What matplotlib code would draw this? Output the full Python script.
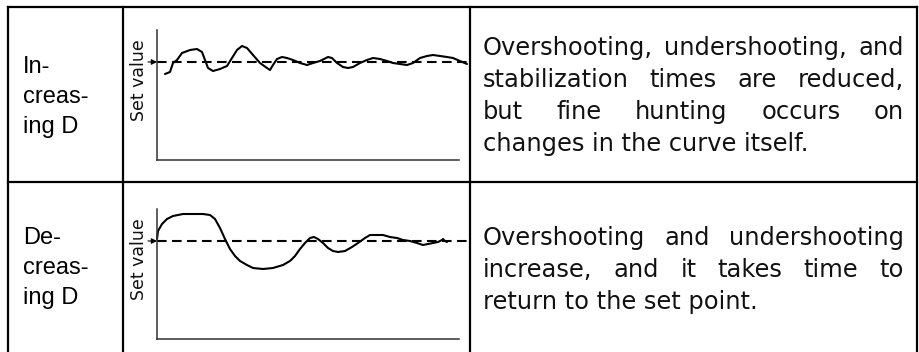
import matplotlib.pyplot as plt

# figure size in pixels (dpi 100)
W, H = 920, 352

# row labels, one entry per line
labels_inc = ['In-', 'creas-', 'ing D']
labels_dec = ['De-', 'creas-', 'ing D']

# descriptions, one entry per printed line
desc_inc = ['Overshooting, undershooting, and',
            'stabilization times are reduced,',
            'but fine hunting occurs on',
            'changes in the curve itself.']
desc_dec = ['Overshooting and undershooting',
            'increase, and it takes time to',
            'return to the set point.']

set_value = 98

# response with increasing D (time, value)
t_inc = [8, 13, 16, 20, 25, 33, 40, 45, 48, 51, 56, 63, 70, 75, 80, 85, 90, 96,
         103, 110, 113, 116, 120, 125, 130, 136, 143, 150, 156, 163, 171, 175,
         180, 186, 191, 196, 203, 210, 216, 223, 230, 236, 243, 250, 256, 263,
         270, 276, 283, 290, 296, 303, 310]
v_inc = [86, 88, 97, 100, 107, 110, 111, 108, 100, 92, 89, 91, 94, 102, 110,
         114, 112, 105, 97, 92, 90, 95, 101, 103, 102, 100, 97, 95, 97, 99, 103,
         102, 97, 93, 92, 93, 97, 100, 102, 101, 99, 97, 96, 95, 97, 102, 104,
         105, 104, 103, 102, 99, 96]

# response with decreasing D (time, value)
t_dec = [0, 1, 5, 10, 16, 26, 36, 46, 53, 58, 63, 68, 73, 78, 83, 90, 96, 106,
         116, 126, 133, 138, 143, 148, 153, 157, 161, 166, 171, 176, 181, 188,
         195, 201, 208, 213, 220, 226, 233, 240, 246, 253, 260, 266, 271, 276,
         281, 285, 286, 288, 290]
v_dec = [100, 108, 115, 120, 123, 125, 125, 125, 124, 120, 111, 100, 90, 83,
         78, 74, 71, 70, 71, 74, 78, 83, 90, 96, 101, 102, 100, 96, 91, 88, 87,
         88, 92, 96, 101, 104, 104, 104, 102, 101, 99, 98, 96, 94, 95, 96, 97,
         99, 100, 98, 97]

fig = plt.figure(figsize=(W / 100, H / 100), dpi=100)
fig.patch.set_facecolor('white')

# full-figure axes in pixel units for the table grid and the text
bg = fig.add_axes([0, 0, 1, 1])
bg.set_xlim(0, W)
bg.set_ylim(H, 0)
bg.axis('off')

grid_kw = dict(color='black', lw=1.6, solid_capstyle='projecting')
bg.plot([8, 917], [7, 7], **grid_kw)
bg.plot([8, 917], [182, 182], **grid_kw)
for x in [8, 123, 470, 917]:
    bg.plot([x, x], [7, H + 2], **grid_kw)

left_font = dict(family='Liberation Sans', fontsize=17, color='black')
right_font = dict(family='DejaVu Sans', fontsize=17.4, color='#111111')


def left_label(lines, y0):
    for i, s in enumerate(lines):
        bg.text(23, y0 + i * 30, s, va='baseline', ha='left', **left_font)


def paragraph(lines, y0, x0=483, x1=904, step=32):
    renderer = fig.canvas.get_renderer()
    for i, s in enumerate(lines):
        y = y0 + i * step
        if i == len(lines) - 1:
            bg.text(x0, y, s, va='baseline', ha='left', **right_font)
            continue
        # justified line: spread words between x0 and x1
        words = s.split()
        txts = [bg.text(0, y, w, va='baseline', ha='left', **right_font)
                for w in words]
        widths = [t.get_window_extent(renderer).width for t in txts]
        gap = (x1 - x0 - sum(widths)) / (len(words) - 1)
        x = x0
        for t, w in zip(txts, widths):
            t.set_x(x)
            x += w + gap


left_label(labels_inc, 73)
left_label(labels_dec, 244)
paragraph(desc_inc, 55)
paragraph(desc_dec, 245)


def response_panel(ybase, t, v):
    ax = fig.add_axes([157 / W, 1 - ybase / H, 312 / W, 130 / H])
    ax.set_xlim(0, 312)
    ax.set_ylim(0, 130)
    ax.patch.set_alpha(0)
    for side in ['top', 'right']:
        ax.spines[side].set_visible(False)
    for side in ['left', 'bottom']:
        ax.spines[side].set_color('#333333')
        ax.spines[side].set_linewidth(1.1)
    ax.spines['bottom'].set_bounds(0, 302)
    ax.set_xticks([])
    ax.set_yticks([])

    ax.plot([0, 310], [set_value, set_value], color='black', lw=1.5,
            linestyle=(0, (4.6, 2.6)))
    ax.plot(t, v, color='black', lw=1.5, solid_joinstyle='round',
            solid_capstyle='round', clip_on=False)
    ax.annotate('', xy=(0, set_value), xytext=(-9, set_value),
                arrowprops=dict(arrowstyle='-|>', color='black', lw=0.8,
                                mutation_scale=8, shrinkA=0, shrinkB=0),
                annotation_clip=False)
    ax.text(-18, 80, 'Set value', rotation=90, ha='center', va='center',
            family='DejaVu Sans', fontsize=12.5, color='#111111')
    return ax


response_panel(160, t_inc, v_inc)
response_panel(339, t_dec, v_dec)

fig.savefig('out.png', dpi=100, facecolor='white')
